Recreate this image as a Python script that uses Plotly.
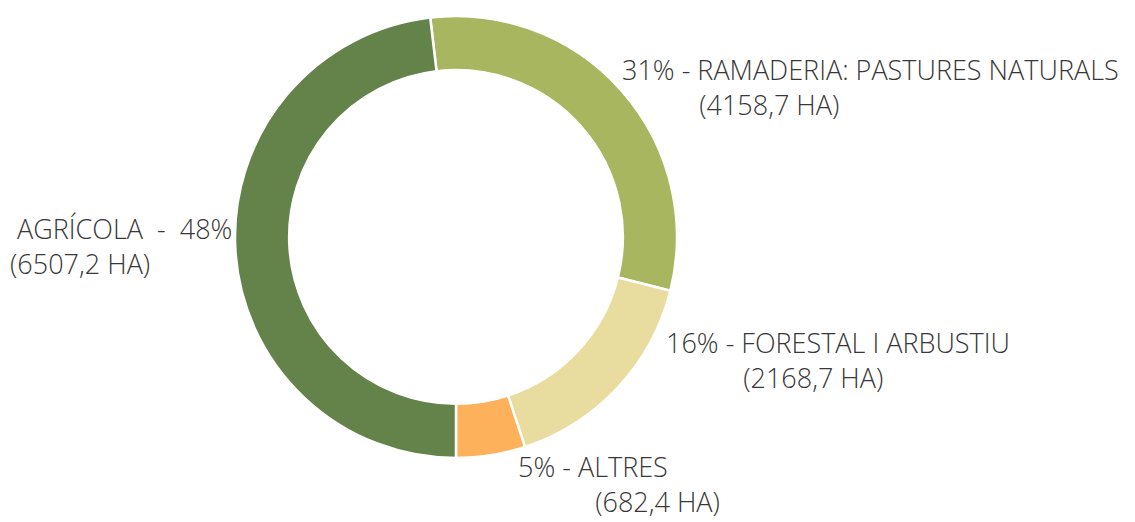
import plotly.graph_objects as go

categories = ["RAMADERIA: PASTURES NATURALS", "FORESTAL I ARBUSTIU", "ALTRES", "AGRÍCOLA"]
hectares = [4158.7, 2168.7, 682.4, 6507.2]
percent_labels = ["31%", "16%", "5%", "48%"]
ha_labels = ["(4158,7 HA)", "(2168,7 HA)", "(682,4 HA)", "(6507,2 HA)"]
colors = ["#A8B660", "#E8DD9E", "#FDB15A", "#64834A"]

W, H = 1135, 522

fig = go.Figure()
fig.add_trace(go.Pie(
    values=hectares,
    labels=categories,
    sort=False,
    direction="clockwise",
    rotation=-6.7,
    hole=0.755,
    marker=dict(colors=colors, line=dict(color="white", width=2.5)),
    textinfo="none",
    hoverinfo="label+value+percent",
    showlegend=False,
    domain=dict(x=[235 / W, 677 / W], y=[1 - 458 / H, 1 - 16 / H]),
))

NB = "\u00a0"
first_lines = [
    f"{percent_labels[0]} - {categories[0]}",
    f"{percent_labels[1]} - {categories[1]}",
    f"{percent_labels[2]} - {categories[2]}",
    f"{NB}{categories[3]}{NB} -{NB} {percent_labels[3]}",
]
indent = [NB * 11, NB * 11, NB * 11, ""]
# block left edge x, block centre y (pixels)
pos = [(620, 87.5), (664, 360), (516, 484), (8, 245.5)]

font = dict(family="Open Sans", size=27, color="#383838", weight=300)
for i in range(4):
    x, y = pos[i]
    fig.add_annotation(
        text=f"{first_lines[i]}<br>{indent[i]}{ha_labels[i]}",
        x=x / W, y=1 - y / H, xref="paper", yref="paper",
        xanchor="left", yanchor="middle", align="left",
        showarrow=False, font=font,
    )

fig.update_layout(
    width=W, height=H,
    margin=dict(l=0, r=0, t=0, b=0),
    paper_bgcolor="white", plot_bgcolor="white",
)
fig.write_html("out.html", config={"displayModeBar": False},
               post_script="document.body.style.margin='0px';")
